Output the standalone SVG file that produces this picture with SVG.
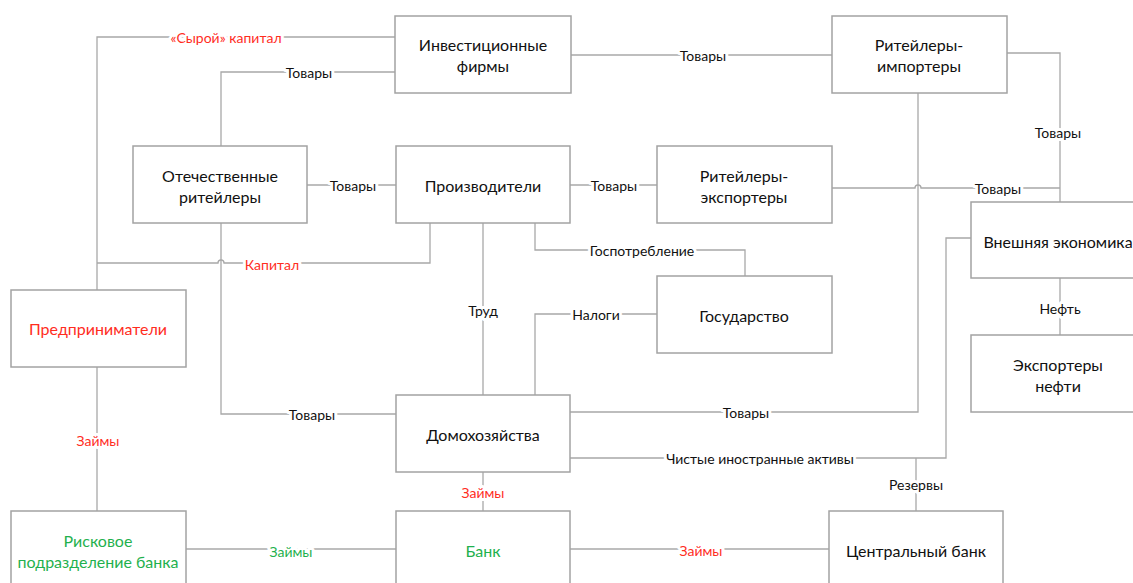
<svg xmlns="http://www.w3.org/2000/svg" width="1133" height="583" viewBox="0 0 1133 583">
<style>
.box{fill:#fff;stroke:#a3a3a3;stroke-width:1.5}
.nt{font-family:Lato,"Liberation Sans",sans-serif;font-size:16px;fill:#111;text-anchor:middle;dominant-baseline:central}
.ln{fill:none;stroke:#a8a8a8;stroke-width:1.3}
.lb{font-family:Lato,"Liberation Sans",sans-serif;font-size:14px;fill:#111;text-anchor:middle;dominant-baseline:central;stroke:#fff;stroke-width:6;paint-order:stroke;stroke-linejoin:round}
.red{fill:#ff2d1e}
.grn{fill:#1fb14e}
</style>
<rect width="1133" height="583" fill="#fff"/>
<g id="connectors">
<path class="ln" d="M395,37 H97 V290"/>
<path class="ln" d="M395,72 H221 V146"/>
<path class="ln" d="M571,55 H832"/>
<path class="ln" d="M1007,53 H1060 V202"/>
<path class="ln" d="M307,185 H396"/>
<path class="ln" d="M570,185 H657"/>
<path class="ln" d="M832,188 H915 a3,3 0 0 1 6,0 H1060"/>
<path class="ln" d="M918,93 V412 H570"/>
<path class="ln" d="M430,223 V263 H224 a3,3 0 0 0 -6,0 H97"/>
<path class="ln" d="M221,223 V414 H396"/>
<path class="ln" d="M483,223 V395"/>
<path class="ln" d="M535,223 V250 H745 V276"/>
<path class="ln" d="M535,395 V314 H657"/>
<path class="ln" d="M1060,278 V335"/>
<path class="ln" d="M570,458 H946 V238 H971"/>
<path class="ln" d="M916,458 V511"/>
<path class="ln" d="M97,367 V511"/>
<path class="ln" d="M483,472 V511"/>
<path class="ln" d="M186,549 H396"/>
<path class="ln" d="M570,549 H829"/>
<text class="lb red" x="226" y="37">«Сырой» капитал</text>
<text class="lb" x="309" y="72">Товары</text>
<text class="lb" x="703" y="55">Товары</text>
<text class="lb" x="1058" y="132">Товары</text>
<text class="lb" x="353" y="185">Товары</text>
<text class="lb" x="614" y="185">Товары</text>
<text class="lb" x="998" y="188">Товары</text>
<text class="lb" x="746" y="412">Товары</text>
<text class="lb red" x="272" y="264">Капитал</text>
<text class="lb" x="312" y="414">Товары</text>
<text class="lb" x="483" y="310">Труд</text>
<text class="lb" x="642" y="250">Госпотребление</text>
<text class="lb" x="596" y="314">Налоги</text>
<text class="lb" x="1060" y="308">Нефть</text>
<text class="lb" x="760" y="458">Чистые иностранные активы</text>
<text class="lb" x="916" y="484">Резервы</text>
<text class="lb red" x="98" y="440">Займы</text>
<text class="lb red" x="483" y="492">Займы</text>
<text class="lb grn" x="291" y="551">Займы</text>
<text class="lb red" x="701" y="550">Займы</text>
</g>
<g id="invest"><rect class="box" x="395" y="16" width="176" height="77"/><text class="nt" x="483" y="44">Инвестиционные</text><text class="nt" x="483" y="65">фирмы</text></g>
<g id="importers"><rect class="box" x="832" y="16" width="175" height="77"/><text class="nt" x="919" y="44">Ритейлеры-</text><text class="nt" x="919" y="65">импортеры</text></g>
<g id="domestic"><rect class="box" x="133" y="146" width="174" height="77"/><text class="nt" x="220" y="175">Отечественные</text><text class="nt" x="220" y="196">ритейлеры</text></g>
<g id="producers"><rect class="box" x="396" y="146" width="174" height="77"/><text class="nt" x="483" y="185">Производители</text></g>
<g id="exporters"><rect class="box" x="657" y="146" width="175" height="77"/><text class="nt" x="744" y="175">Ритейлеры-</text><text class="nt" x="744" y="196">экспортеры</text></g>
<g id="external"><rect class="box" x="971" y="202" width="175" height="76"/><text class="nt" x="1058" y="241">Внешняя экономика</text></g>
<g id="entrepreneurs"><rect class="box" x="11" y="290" width="175" height="77"/><text class="nt red" x="98" y="328">Предприниматели</text></g>
<g id="government"><rect class="box" x="657" y="276" width="175" height="77"/><text class="nt" x="744" y="315">Государство</text></g>
<g id="oil"><rect class="box" x="971" y="335" width="175" height="77"/><text class="nt" x="1058" y="364">Экспортеры</text><text class="nt" x="1058" y="385">нефти</text></g>
<g id="households"><rect class="box" x="396" y="395" width="174" height="77"/><text class="nt" x="483" y="434">Домохозяйства</text></g>
<g id="riskdiv"><rect class="box" x="11" y="511" width="175" height="77"/><text class="nt grn" x="98" y="540">Рисковое</text><text class="nt grn" x="98" y="561">подразделение банка</text></g>
<g id="bank"><rect class="box" x="396" y="511" width="174" height="77"/><text class="nt grn" x="483" y="550">Банк</text></g>
<g id="centralbank"><rect class="box" x="829" y="511" width="174" height="77"/><text class="nt" x="916" y="550">Центральный банк</text></g>
</svg>
